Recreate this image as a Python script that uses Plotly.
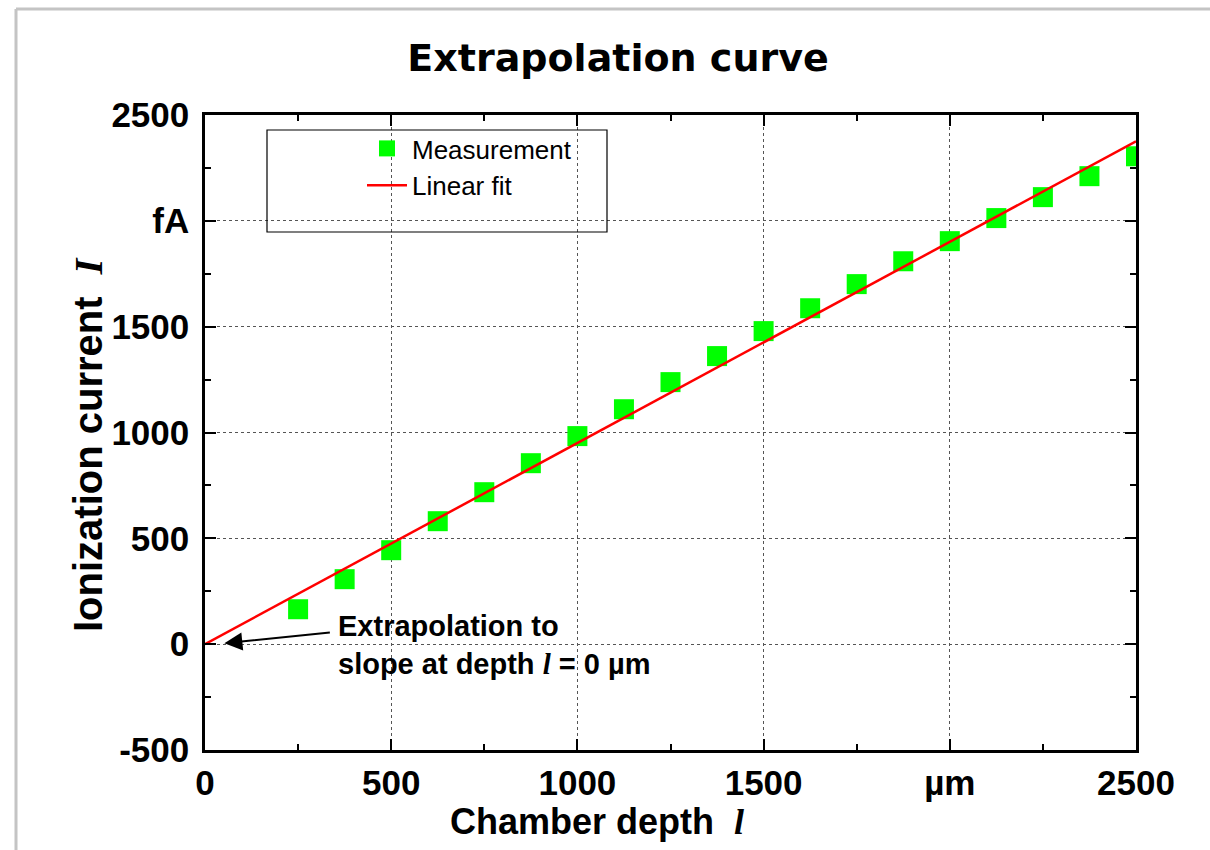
import plotly.graph_objects as go

# Data
depth_um = [250, 375, 500, 625, 750, 875, 1000, 1125, 1250, 1375, 1500,
            1625, 1750, 1875, 2000, 2125, 2250, 2375, 2500]
current_fA = [165, 307, 444, 581, 718, 855, 983, 1110, 1238, 1361, 1479,
              1587, 1701, 1809, 1904, 2013, 2112, 2211, 2305]
fit_x = [0, 2500]
fit_y = [0, 2376]

x_tickvals = [0, 500, 1000, 1500, 2000, 2500]
x_ticktext = ["0", "500", "1000", "1500", "µm", "2500"]
y_tickvals = [-500, 0, 500, 1000, 1500, 2000, 2500]
y_ticktext = ["-500", "0", "500", "1000", "1500", "fA", "2500"]

W, H = 1210, 850
L, R, T, B = 205, 1136, 115, 750
pw, ph = R - L, B - T


def px(xp):
    return (xp - L) / pw


def py(yp):
    return (B - yp) / ph


FONT = "Liberation Sans, Arial, sans-serif"
SERIF = "Liberation Serif, Times New Roman, serif"

fig = go.Figure()
fig.add_trace(go.Scatter(
    x=depth_um, y=current_fA, mode="markers", name="Measurement",
    marker=dict(symbol="square", size=20, color="#00ff00", line=dict(width=0)),
))
fig.add_trace(go.Scatter(
    x=fit_x, y=fit_y, mode="lines", name="Linear fit",
    line=dict(color="#ff0000", width=2.5),
))

axis_common = dict(
    showline=True, linecolor="black", linewidth=2.5, mirror="ticks",
    ticks="inside", ticklen=11, tickwidth=2, tickcolor="black",
    showgrid=True, gridcolor="#555555", griddash="dot", gridwidth=1,
    zeroline=False,
    tickfont=dict(family=FONT, size=35, color="black", weight="bold"),
    minor=dict(ticks="inside", ticklen=6, tickwidth=2, tickcolor="black",
               dtick=250, showgrid=False),
)

fig.update_xaxes(range=[0, 2500], tickvals=x_tickvals, ticktext=x_ticktext,
                 ticklabelstandoff=0, **axis_common)
fig.update_yaxes(range=[-500, 2500], tickvals=y_tickvals, ticktext=y_ticktext,
                 ticklabelstandoff=6, **axis_common)

fig.update_layout(
    width=W, height=H,
    margin=dict(l=L, r=W - R, t=T, b=H - B),
    paper_bgcolor="white", plot_bgcolor="white",
    showlegend=True,
    legend=dict(x=px(362), y=py(125), xanchor="left", yanchor="top",
                bgcolor="rgba(0,0,0,0)", borderwidth=0,
                font=dict(family=FONT, size=26, color="black"),
                itemwidth=40, tracegroupgap=0),
    title=dict(text="<b>Extrapolation curve</b>", x=618 / W, xref="container",
               xanchor="center", y=1 - 58 / H, yref="container", yanchor="middle",
               font=dict(family="DejaVu Sans, sans-serif",
                         size=38, color="black")),
)

shapes = [
    # legend box
    dict(type="rect", xref="paper", yref="paper", x0=px(267), x1=px(607),
         y0=py(232), y1=py(130), line=dict(color="black", width=1.2),
         fillcolor="rgba(0,0,0,0)", layer="above"),
    # page frame
    dict(type="line", xref="paper", yref="paper", x0=px(16), x1=px(16),
         y0=py(9), y1=py(870), line=dict(color="#c4c4c4", width=3)),
    dict(type="line", xref="paper", yref="paper", x0=px(16), x1=px(1230),
         y0=py(9), y1=py(9), line=dict(color="#c4c4c4", width=3)),
]
fig.update_layout(shapes=shapes)

annotations = [
    dict(xref="paper", yref="paper", x=px(597), y=py(822), showarrow=False,
         text="<b>Chamber depth  </b><span style=\"font-family:'Liberation Serif'\"><b><i>l</i></b></span>",
         font=dict(family=FONT, size=36, color="black"),
         xanchor="center", yanchor="middle"),
    dict(xref="paper", yref="paper", x=px(88), y=py(445), showarrow=False,
         textangle=-90,
         text="<b>Ionization current  </b><span style=\"font-family:'Liberation Serif'\"><b><i>I</i></b></span>",
         font=dict(family=FONT, size=40, color="black"),
         xanchor="center", yanchor="middle"),
    dict(x=352, y=-5, xref="x", yref="y", showarrow=False, align="left",
         xanchor="left", yanchor="middle",
         text="<b>Extrapolation to<br>slope at depth </b><span style=\"font-family:'Liberation Serif'\"><b><i>l</i></b></span><b> = 0 µm</b>",
         font=dict(family=FONT, size=29, color="black")),
    dict(x=52, y=4, xref="x", yref="y", text="", showarrow=True,
         ax=332 - 225, ay=632 - 643, arrowhead=2, arrowsize=1.8, arrowwidth=2,
         arrowcolor="black", standoff=0, startstandoff=0),
]
fig.update_layout(annotations=annotations)

fig.write_html("out.html")
